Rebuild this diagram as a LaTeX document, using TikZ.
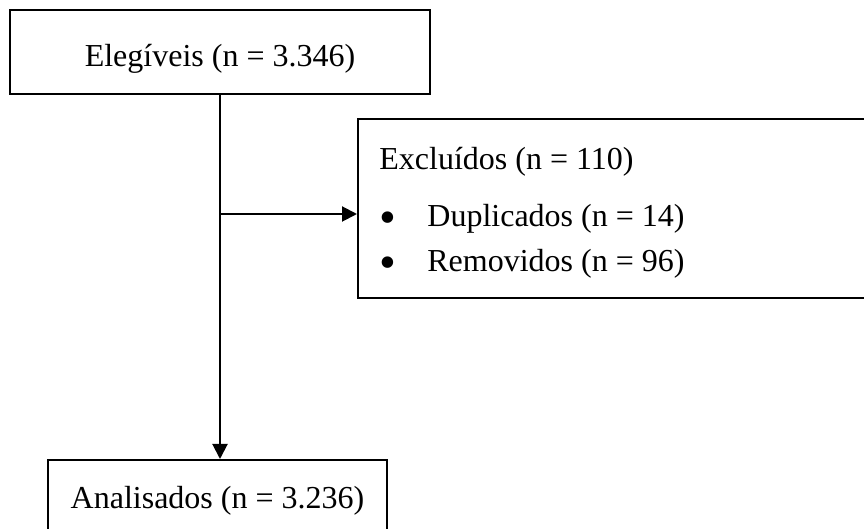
\documentclass[tikz,border=0pt]{standalone}
\usepackage{fontspec}
\setmainfont{Liberation Serif}
\usetikzlibrary{arrows.meta}
\usetikzlibrary{calc}
\usetikzlibrary{positioning}
\newcommand{\marcador}{\raisebox{-3.5pt}{\fontsize{24}{24}\selectfont\textbullet}}
\tikzset{caixa/.style={draw,line width=1pt,inner sep=0pt},
	texto/.style={inner sep=0pt,font=\fontsize{16}{19}\selectfont},
	seta/.style={line width=1pt,-{Triangle[length=7.5pt,width=7.5pt]}}}

\begin{document}
\begin{tikzpicture}[x=0.5pt,y=-0.5pt]
		\useasboundingbox (0,0) rectangle (864,529);
		\clip (0,0) rectangle (864,529);
		% caixas
		\draw (220,52) node[caixa,minimum width=210pt,minimum height=42pt] (eleg) {};
		\draw (629,208.5) node[caixa,minimum width=271pt,minimum height=89.5pt] (excl) {};
		\draw (217.5,502.5) node[caixa,minimum width=169.5pt,minimum height=42.5pt] (anal) {};
		% textos
		\draw (220,66.5) node[texto,anchor=base] (teleg) {Elegíveis (n = 3.346)};
		\draw (379,170) node[texto,anchor=base west] (texcl) {Excluídos (n = 110)};
		\draw (388,227) node[texto,anchor=base] (b1) {\marcador};
		\draw (427,227) node[texto,anchor=base west] (dup) {Duplicados (n = 14)};
		\draw (388,272) node[texto,anchor=base] (b2) {\marcador};
		\draw (427,272) node[texto,anchor=base west] (rem) {Removidos (n = 96)};
		\draw (217.5,509) node[texto,anchor=base] (tanal) {Analisados (n = 3.236)};
		% setas
		\coordinate (desvio) at (eleg.south |- 0,214);
		\draw[seta] (eleg.south) -- (eleg.south |- anal.north);
		\draw[seta] (desvio) -- (desvio -| excl.west);
	\end{tikzpicture}
\end{document}
